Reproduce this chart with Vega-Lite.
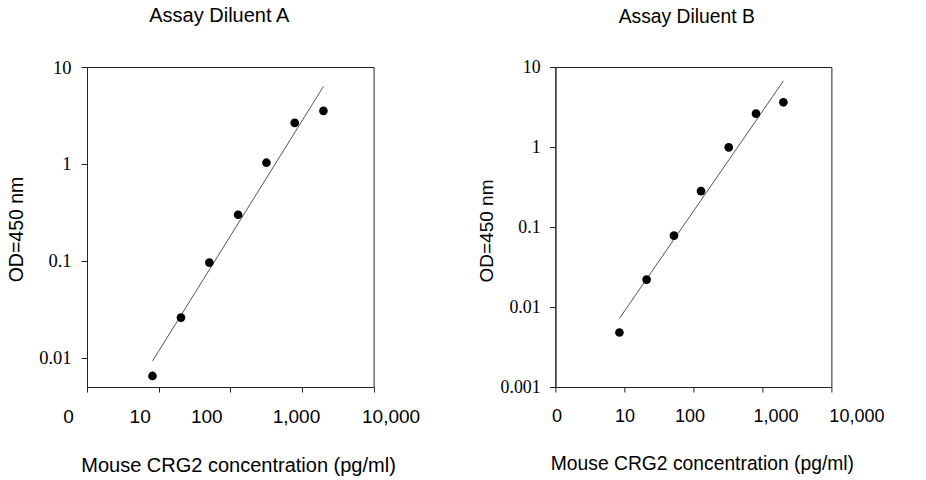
{
  "$schema": "https://vega.github.io/schema/vega-lite/v6.json",
  "background": "white",
  "padding": {"left": 5, "top": 5, "right": 5, "bottom": 5},
  "datasets": {
    "points": [
      {"diluent": "A", "conc": 8.2, "od": 0.0065},
      {"diluent": "A", "conc": 20.5, "od": 0.026},
      {"diluent": "A", "conc": 51, "od": 0.096},
      {"diluent": "A", "conc": 128.5, "od": 0.299},
      {"diluent": "A", "conc": 319, "od": 1.03},
      {"diluent": "A", "conc": 793, "od": 2.65},
      {"diluent": "A", "conc": 1995, "od": 3.53},
      {"diluent": "B", "conc": 8.47, "od": 0.0048},
      {"diluent": "B", "conc": 21.0, "od": 0.022},
      {"diluent": "B", "conc": 52.3, "od": 0.078},
      {"diluent": "B", "conc": 128.9, "od": 0.281},
      {"diluent": "B", "conc": 325, "od": 0.99},
      {"diluent": "B", "conc": 808, "od": 2.61},
      {"diluent": "B", "conc": 2015, "od": 3.62}
    ],
    "fits": [
      {"diluent": "A", "conc": 8.2, "od": 0.00925},
      {"diluent": "A", "conc": 1995, "od": 6.3},
      {"diluent": "B", "conc": 8.47, "od": 0.0072},
      {"diluent": "B", "conc": 2015, "od": 6.7}
    ]
  },
  "bounds": "flush",
  "spacing": 181.4,
  "hconcat": [
    {
      "width": 286.6,
      "height": 320,
      "title": {
        "text": "Assay Diluent A",
        "font": "Liberation Sans",
        "fontSize": 20,
        "fontWeight": "normal",
        "color": "#000",
        "anchor": "middle",
        "frame": "group",
        "baseline": "alphabetic",
        "offset": 15.7,
        "dx": -11
      },
      "encoding": {
        "x": {
          "field": "conc",
          "type": "quantitative",
          "scale": {"type": "log", "domain": [1, 10000], "nice": false},
          "axis": {
            "values": [1, 10, 100, 1000, 10000],
            "labelExpr": "datum.value == 1 ? '0' : format(datum.value, ',')",
            "labelOffset": {"expr": "datum.value == 1 ? -19 : datum.value == 10 ? -19 : datum.value == 100 ? -24 : datum.value == 1000 ? -6 : 17"},
            "labelFont": "Liberation Sans",
            "labelFontSize": 19,
            "labelPadding": 15,
            "tickSize": 5,
            "title": "Mouse CRG2 concentration (pg/ml)",
            "titleFont": "Liberation Sans",
            "titleFontSize": 20,
            "titleBaseline": "alphabetic",
            "titleX": 151,
            "titleY": 84.7
          }
        },
        "y": {
          "field": "od",
          "type": "quantitative",
          "scale": {"type": "log", "domain": [0.005, 10], "nice": false},
          "axis": {
            "values": [0.01, 0.1, 1, 10],
            "format": "~g",
            "labelFont": "Liberation Serif",
            "labelFontSize": 18.5,
            "labelPadding": 10,
            "tickSize": 6,
            "title": "OD=450 nm",
            "titleFont": "Liberation Sans",
            "titleFontSize": 19.5,
            "titleBaseline": "alphabetic",
            "titleX": -65,
            "titleY": 162
          }
        }
      },
      "layer": [
        {
          "data": {"name": "fits"},
          "transform": [{"filter": "datum.diluent == 'A'"}],
          "mark": {"type": "line", "color": "#555", "strokeWidth": 1}
        },
        {
          "data": {"name": "points"},
          "transform": [{"filter": "datum.diluent == 'A'"}],
          "mark": {"type": "circle", "size": 75, "color": "#000", "opacity": 1}
        }
      ]
    },
    {
      "width": 276,
      "height": 320,
      "title": {
        "text": "Assay Diluent B",
        "font": "Liberation Sans",
        "fontSize": 19.3,
        "fontWeight": "normal",
        "color": "#000",
        "anchor": "middle",
        "frame": "group",
        "baseline": "alphabetic",
        "offset": 16,
        "dx": -6.7
      },
      "encoding": {
        "x": {
          "field": "conc",
          "type": "quantitative",
          "scale": {"type": "log", "domain": [1, 10000], "nice": false},
          "axis": {
            "values": [1, 10, 100, 1000, 10000],
            "labelExpr": "datum.value == 1 ? '0' : format(datum.value, ',')",
            "labelOffset": {"expr": "datum.value == 1 ? 1 : datum.value == 10 ? 0 : datum.value == 100 ? -4 : datum.value == 1000 ? 13 : 25"},
            "labelFont": "Liberation Sans",
            "labelFontSize": 18,
            "labelPadding": 15,
            "tickSize": 5,
            "title": "Mouse CRG2 concentration (pg/ml)",
            "titleFont": "Liberation Sans",
            "titleFontSize": 19.3,
            "titleBaseline": "alphabetic",
            "titleX": 146.5,
            "titleY": 82
          }
        },
        "y": {
          "field": "od",
          "type": "quantitative",
          "scale": {"type": "log", "domain": [0.001, 10], "nice": false},
          "axis": {
            "values": [0.001, 0.01, 0.1, 1, 10],
            "format": "~g",
            "labelFont": "Liberation Serif",
            "labelFontSize": 17.8,
            "labelPadding": 9.3,
            "tickSize": 6,
            "title": "OD=450 nm",
            "titleFont": "Liberation Sans",
            "titleFontSize": 19,
            "titleBaseline": "alphabetic",
            "titleX": -63,
            "titleY": 163.5
          }
        }
      },
      "layer": [
        {
          "data": {"name": "fits"},
          "transform": [{"filter": "datum.diluent == 'B'"}],
          "mark": {"type": "line", "color": "#555", "strokeWidth": 1}
        },
        {
          "data": {"name": "points"},
          "transform": [{"filter": "datum.diluent == 'B'"}],
          "mark": {"type": "circle", "size": 75, "color": "#000", "opacity": 1}
        }
      ]
    }
  ],
  "config": {
    "view": {"stroke": "#222", "strokeWidth": 1},
    "axis": {
      "grid": false,
      "domainColor": "#222",
      "tickColor": "#222",
      "labelColor": "#000",
      "titleColor": "#000",
      "titleFontWeight": "normal",
      "labelFlush": false,
      "labelOverlap": false,
      "labelBound": false
    }
  }
}
